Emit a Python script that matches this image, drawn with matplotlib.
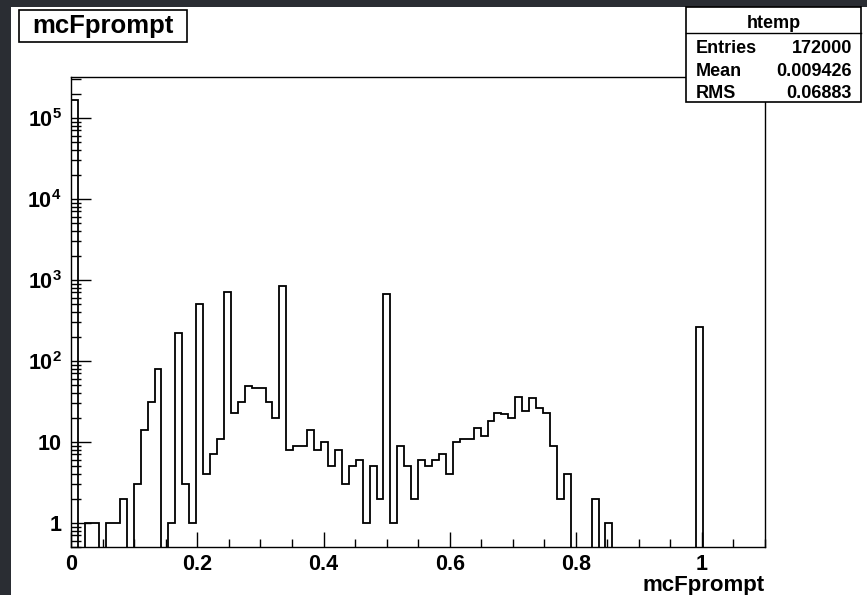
import matplotlib.pyplot as plt
import numpy as np
from matplotlib.patches import Rectangle
from matplotlib.lines import Line2D
from matplotlib.ticker import FixedLocator, LogLocator, NullFormatter, MultipleLocator

plt.rcParams['font.family'] = ['Liberation Sans', 'DejaVu Sans']
plt.rcParams['font.weight'] = 'bold'
plt.rcParams['mathtext.fontset'] = 'custom'
plt.rcParams['mathtext.rm'] = 'Liberation Sans:bold'
plt.rcParams['mathtext.it'] = 'Liberation Sans:bold'
plt.rcParams['mathtext.bf'] = 'Liberation Sans:bold'

# histogram: 100 bins over [0, 1.1]
bin_edges = np.linspace(0, 1.1, 101)
counts = np.array([
    167800, 0, 1, 1, 0, 1, 1, 2, 0, 3,
    14, 31, 80, 0, 1, 220, 3, 1, 500, 4,
    7, 11, 700, 23, 31, 49, 46, 46, 31, 20,
    830, 8, 9, 9, 14, 8, 10, 5, 8, 3,
    5, 6, 1, 5, 2, 670, 1, 9, 5, 2,
    6, 5, 6, 7, 4, 10, 11, 11, 15, 12,
    18, 23, 22, 20, 36, 24, 35, 26, 23, 9,
    2, 4, 0, 0, 0, 2, 0, 1, 0, 0,
    0, 0, 0, 0, 0, 0, 0, 0, 0, 0,
    260, 0, 0, 0, 0, 0, 0, 0, 0, 0,
], dtype=float)

xtick_values = [0, 0.2, 0.4, 0.6, 0.8, 1.0]
xtick_labels = ['0', '0.2', '0.4', '0.6', '0.8', '1']
ytick_values = [1, 10, 1e2, 1e3, 1e4, 1e5]
ytick_labels = ['1', '10', r'$10^{2}$', r'$10^{3}$', r'$10^{4}$', r'$10^{5}$']

hist_name = 'htemp'
stat_names = ['Entries', 'Mean', 'RMS']
stat_values = ['172000', '0.009426', '0.06883']
var_name = 'mcFprompt'

W, H = 867, 595


def fx(x):
    return x / W


def fy(y):
    return 1 - y / H


fig = plt.figure(figsize=(W / 100, H / 100), dpi=100, facecolor='#2a2d33')
fig.add_artist(Rectangle((fx(11), 0), 1 - fx(11), fy(7), transform=fig.transFigure,
                         facecolor='white', edgecolor='none', zorder=0))

ax = fig.add_axes([fx(71.3), fy(547.3), fx(765) - fx(71.3), fy(77) - fy(547.3)])
ax.set_yscale('log')

floor = 1e-3
ax.stairs(np.where(counts > 0, counts, floor), bin_edges, baseline=floor,
          color='black', linewidth=1.3)

ax.set_xlim(0, 1.1)
ax.set_ylim(0.5, 3.2e5)

ax.xaxis.set_major_locator(FixedLocator(xtick_values))
ax.set_xticklabels(xtick_labels)
ax.xaxis.set_minor_locator(MultipleLocator(0.05))
ax.yaxis.set_major_locator(FixedLocator(ytick_values))
ax.set_yticklabels(ytick_labels)
ax.yaxis.set_minor_locator(LogLocator(base=10, subs=np.arange(2, 10), numticks=50))
ax.yaxis.set_minor_formatter(NullFormatter())

ax.tick_params(axis='x', which='major', direction='in', length=11, width=1, pad=5, labelsize=15.5)
ax.tick_params(axis='x', which='minor', direction='in', length=5.5, width=1)
ax.tick_params(axis='y', which='major', direction='in', length=14.5, width=1, pad=7, labelsize=15.5)
ax.tick_params(axis='y', which='minor', direction='in', length=7.2, width=1)
for s in ax.spines.values():
    s.set_linewidth(1)

# x axis title, right aligned
fig.text(fx(765), fy(590.5), var_name, ha='right', va='baseline', fontsize=16, fontweight='bold')

# title box
fig.add_artist(Rectangle((fx(19), fy(42)), fx(187) - fx(19), fy(10) - fy(42),
                         transform=fig.transFigure, facecolor='white',
                         edgecolor='black', linewidth=1.2, zorder=5))
fig.text(fx(103), fy(33.3), var_name, ha='center', va='baseline', fontsize=18.5,
         fontweight='bold', zorder=6)

# statistics box
fig.add_artist(Rectangle((fx(686), fy(101.7)), fx(861) - fx(686), fy(7) - fy(101.7),
                         transform=fig.transFigure, facecolor='white',
                         edgecolor='black', linewidth=1.2, zorder=5))
fig.add_artist(Line2D([fx(686), fx(861)], [fy(33.3), fy(33.3)], transform=fig.transFigure,
                      color='black', linewidth=1, zorder=6))
fig.text(fx(773.5), fy(27.5), hist_name, ha='center', va='baseline', fontsize=13,
         fontweight='bold', zorder=6)
for i, (name, val) in enumerate(zip(stat_names, stat_values)):
    yb = 52.7 + 22.8 * i
    fig.text(fx(695.5), fy(yb), name, ha='left', va='baseline', fontsize=13,
             fontweight='bold', zorder=6)
    fig.text(fx(852), fy(yb), val, ha='right', va='baseline', fontsize=13,
             fontweight='bold', zorder=6)

fig.savefig('out.png', dpi=100, facecolor=fig.get_facecolor())
